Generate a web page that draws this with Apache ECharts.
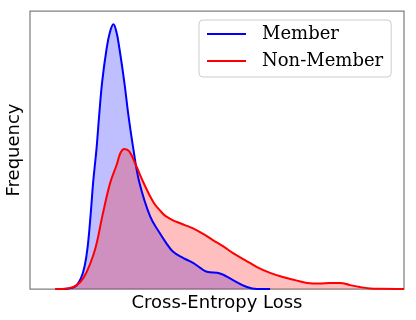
<!DOCTYPE html>
<html>
<head>
<meta charset="utf-8">
<script src="https://cdn.jsdelivr.net/npm/echarts@6/dist/echarts.min.js"></script>
<style>html,body{margin:0;padding:0;background:#fff;}#c{width:416px;height:320px;}</style>
</head>
<body>
<div id="c"></div>
<script>
const seriesNames = ['Member', 'Non-Member'];
const memberLoss = [0.80,0.98,1.20,1.36,1.46,1.54,1.62,1.69,1.78,1.85,1.93,2.05,2.14,2.23,2.31,2.39,2.52,2.63,2.76,2.92,3.21,3.46,3.63,3.82,4.09,4.36,4.55,4.73,5.08,5.43,5.80,6.07,6.42];
const memberDensity = [0,0.001,0.008,0.038,0.082,0.150,0.266,0.386,0.507,0.626,0.746,0.866,0.925,0.952,0.925,0.866,0.746,0.626,0.507,0.386,0.262,0.203,0.168,0.135,0.112,0.094,0.076,0.062,0.056,0.032,0.007,0,0];
const nonMemberLoss = [0.67,1.02,1.25,1.43,1.60,1.76,1.94,2.14,2.32,2.42,2.52,2.65,2.83,3.03,3.30,3.48,3.61,3.80,3.93,4.14,4.36,4.63,4.89,5.16,5.43,5.75,6.07,6.42,6.76,7.09,7.41,7.75,8.02,8.29,8.56,8.82,9.09,9.36,10.0];
const nonMemberDensity = [0,0.002,0.014,0.040,0.088,0.152,0.266,0.380,0.448,0.490,0.504,0.496,0.446,0.384,0.312,0.282,0.264,0.249,0.241,0.230,0.218,0.198,0.176,0.154,0.129,0.104,0.079,0.058,0.043,0.032,0.022,0.020,0.022,0.022,0.014,0.007,0.002,0.0005,0];
const xAxisTitle = 'Cross-Entropy Loss';
const yAxisTitle = 'Frequency';

const pairs = (xs, ys) => xs.map((x, i) => [x, ys[i]]);
const chart = echarts.init(document.getElementById('c'), null, {renderer: 'canvas'});
chart.setOption({
  animation: false,
  backgroundColor: '#fff',
  grid: {left: 30, top: 11, right: 12, bottom: 31, containLabel: false, outerBoundsMode: 'none',
    show: true, borderColor: '#808080', borderWidth: 1.25, backgroundColor: 'transparent'},
  xAxis: {type: 'value', min: 0, max: 10, name: xAxisTitle, nameLocation: 'middle', nameGap: 5,
    nameTextStyle: {fontFamily: 'DejaVu Sans', fontSize: 18, color: '#000', verticalAlign: 'top'},
    axisLine: {show: false}, axisTick: {show: false}, axisLabel: {show: false}, splitLine: {show: false}},
  yAxis: {type: 'value', min: 0, max: 1, name: yAxisTitle, nameLocation: 'middle', nameGap: 7, nameRotate: 90,
    nameTextStyle: {fontFamily: 'DejaVu Sans', fontSize: 18, color: '#000'},
    axisLine: {show: false}, axisTick: {show: false}, axisLabel: {show: false}, splitLine: {show: false}},
  legend: {
    orient: 'vertical', left: 199, top: 20, padding: [4, 8, 6, 8], itemGap: 7,
    backgroundColor: '#fff', borderColor: '#cccccc', borderWidth: 1, borderRadius: 4,
    itemWidth: 39, itemHeight: 2, icon: 'rect',
    textStyle: {fontFamily: 'DejaVu Serif', fontSize: 18, color: '#000', lineHeight: 20, padding: [0, 0, 0, 11]},
    data: seriesNames
  },
  series: [
    {name: seriesNames[0], type: 'line', data: pairs(memberLoss, memberDensity), smooth: 0.4, showSymbol: false,
      lineStyle: {color: '#0000ff', width: 2}, itemStyle: {color: '#0000ff'}, areaStyle: {color: '#0000ff', opacity: 0.25}},
    {name: seriesNames[1], type: 'line', data: pairs(nonMemberLoss, nonMemberDensity), smooth: 0.4, showSymbol: false,
      lineStyle: {color: '#ff0000', width: 2}, itemStyle: {color: '#ff0000'}, areaStyle: {color: '#ff0000', opacity: 0.25}}
  ]
});
</script>
</body>
</html>
